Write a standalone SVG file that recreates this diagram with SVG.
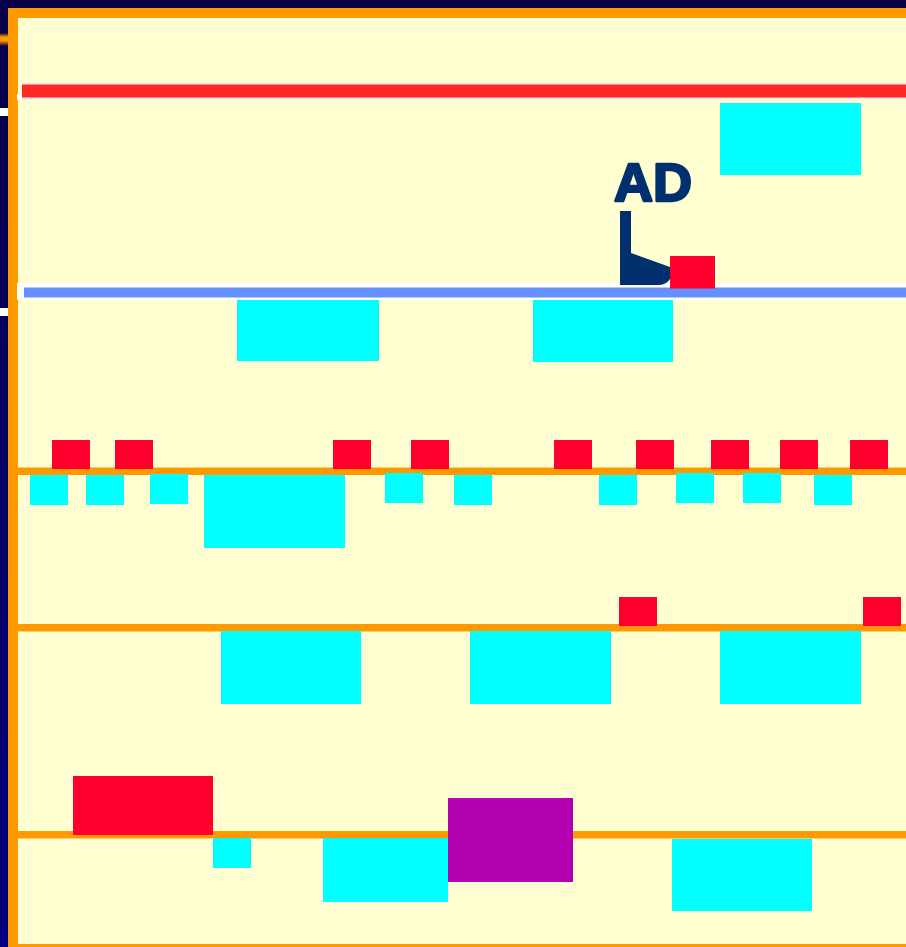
<svg xmlns="http://www.w3.org/2000/svg" width="906" height="947" viewBox="0 0 906 947">
<defs>
<linearGradient id="side" x1="0" y1="0" x2="0" y2="1">
<stop offset="0" stop-color="#0a0048"/>
<stop offset="1" stop-color="#000080"/>
</linearGradient>
<linearGradient id="glow" x1="0" y1="0" x2="0" y2="1">
<stop offset="0" stop-color="#0a0048"/>
<stop offset="0.3" stop-color="#ff9900"/>
<stop offset="0.6" stop-color="#ff9900"/>
<stop offset="1" stop-color="#0a0048"/>
</linearGradient>
</defs>
<style>
.cy{fill:#00ffff}
.rd{fill:#ff002e}
.or{fill:#ff9900}
.pu{fill:#b000b0}
.ad{font-family:"Liberation Sans",Arial,sans-serif;font-weight:bold;font-size:54px;fill:#00306e;stroke:#00306e;stroke-width:2.5;stroke-linejoin:round}
</style>
<g id="background">
<rect x="0" y="0" width="906" height="947" fill="url(#side)"/>
<rect x="0" y="0" width="906" height="8" fill="#0a0048"/>
<rect x="0" y="33" width="8" height="13" fill="url(#glow)"/>
<rect x="0" y="108" width="8" height="8" fill="#ffffff"/>
<rect x="0" y="308" width="8" height="8" fill="#ffffff"/>
<rect x="8" y="8" width="898" height="939" class="or"/>
<rect x="18" y="18" width="888" height="926" fill="#ffffd2"/>
</g>
<g id="red-line">
<rect x="22" y="83" width="884" height="16.5" fill="#ffeaea"/>
<rect x="17" y="94" width="5" height="6" fill="#ffffff"/>
<rect x="22" y="84.5" width="884" height="13" fill="#ff2828"/>
</g>
<g id="blue-line">
<rect x="17" y="283" width="889" height="16.5" fill="#ffffff"/>
<rect x="24" y="287.5" width="882" height="10" fill="#6690ff"/>
</g>
<g id="orange-lines">
<rect x="18" y="467.5" width="888" height="7.5" class="or"/>
<rect x="18" y="624" width="888" height="7.5" class="or"/>
<rect x="18" y="831" width="888" height="7.5" class="or"/>
</g>
<g id="top-box"><rect x="720" y="103" width="141" height="72" class="cy"/></g>
<g id="ad-label">
<text x="614" y="201" class="ad">AD</text>
<path d="M620,211 L631,211 L631,253 L670,267 L670,279 Q666,285 658,285 L620,285 Z" fill="#00306e"/>
<rect x="670" y="256" width="45" height="32.5" class="rd"/>
</g>
<g id="row1">
<rect x="237" y="300" width="142" height="61" class="cy"/>
<rect x="533" y="300" width="140" height="62" class="cy"/>
</g>
<g id="row2">
<rect x="52" y="440" width="38" height="29" class="rd"/>
<rect x="115" y="440" width="38" height="29" class="rd"/>
<rect x="333" y="440" width="38" height="29" class="rd"/>
<rect x="411" y="440" width="38" height="29" class="rd"/>
<rect x="554" y="440" width="38" height="29" class="rd"/>
<rect x="636" y="440" width="38" height="29" class="rd"/>
<rect x="711" y="440" width="38" height="29" class="rd"/>
<rect x="780" y="440" width="38" height="29" class="rd"/>
<rect x="850" y="440" width="38" height="29" class="rd"/>
<rect x="30" y="475" width="38" height="30" class="cy"/>
<rect x="86" y="475" width="38" height="30" class="cy"/>
<rect x="150" y="474" width="38" height="30" class="cy"/>
<rect x="204" y="475" width="141" height="73" class="cy"/>
<rect x="385" y="473" width="38" height="30" class="cy"/>
<rect x="454" y="475" width="38" height="30" class="cy"/>
<rect x="599" y="475" width="38" height="30" class="cy"/>
<rect x="676" y="473" width="38" height="30" class="cy"/>
<rect x="743" y="473" width="38" height="30" class="cy"/>
<rect x="814" y="475" width="38" height="30" class="cy"/>
</g>
<g id="row3">
<rect x="619" y="597" width="38" height="29" class="rd"/>
<rect x="863" y="597" width="38" height="29" class="rd"/>
<rect x="221" y="631" width="140" height="73" class="cy"/>
<rect x="470" y="631" width="141" height="73" class="cy"/>
<rect x="720" y="631" width="141" height="73" class="cy"/>
</g>
<g id="row4">
<rect x="73" y="776" width="140" height="59" class="rd"/>
<rect x="213" y="838" width="38" height="30" class="cy"/>
<rect x="323" y="838" width="125" height="64" class="cy"/>
<rect x="448" y="798" width="125" height="84" class="pu"/>
<rect x="672" y="839" width="140" height="72" class="cy"/>
</g>
</svg>
